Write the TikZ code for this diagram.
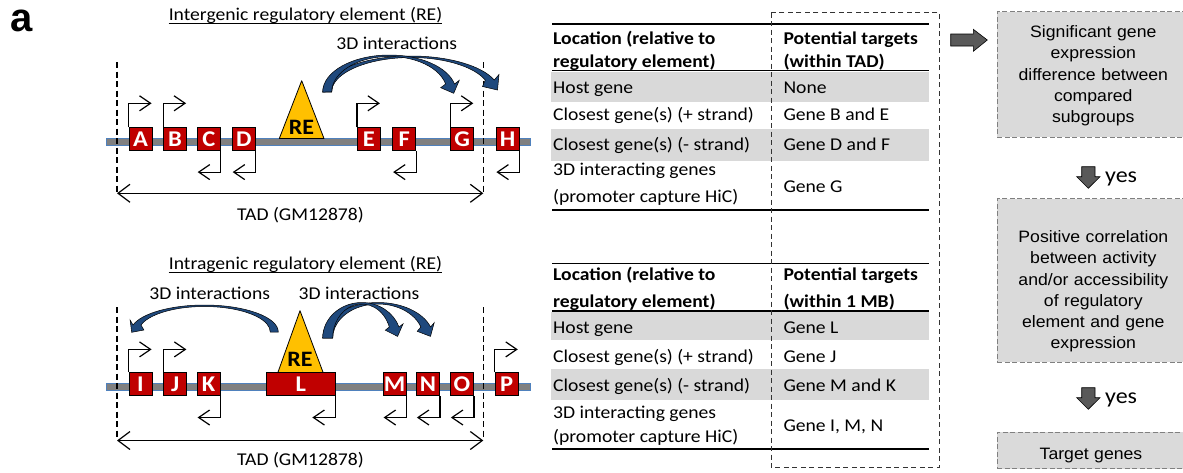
\documentclass[tikz,border=0pt]{standalone}
\usepackage{fontspec}
\setmainfont{Carlito}[FakeStretch=1.09]
\newfontfamily\arialf{Liberation Sans}[FakeStretch=1.07]
\newfontfamily\panelf{Liberation Sans}
\usetikzlibrary{arrows.meta,calc}

\definecolor{genered}{HTML}{C00000}
\definecolor{navy}{HTML}{1F497D}
\definecolor{barfill}{HTML}{808080}
\definecolor{barline}{HTML}{4F81BD}
\definecolor{regold}{HTML}{FFC000}
\definecolor{rowgray}{HTML}{D9D9D9}
\definecolor{boxgray}{HTML}{DADADA}
\definecolor{blockgray}{HTML}{595959}

\tikzset{
  txt/.style={font=\fontsize{18}{20}\selectfont, inner sep=0pt, anchor=base},
  txtl/.style={txt, anchor=base west},
  hdr/.style={txtl, font=\fontsize{18}{20}\selectfont\bfseries},
  gene/.style={draw=black, line width=0.8pt, fill=genered, text=white,
    font=\fontsize{22.5}{22.5}\selectfont\bfseries, minimum width=23pt,
    minimum height=23pt, inner sep=0pt, text height=14.5pt, text depth=0pt},
  relabel/.style={font=\fontsize{22}{22}\selectfont\bfseries, inner sep=0pt, anchor=base},
  prom/.style={line width=1.2pt, -{Straight Barb[length=11pt,width=15pt]}},
  tad/.style={line width=1.2pt,
    {Straight Barb[length=12pt,width=18pt]}-{Straight Barb[length=12pt,width=18pt]}},
  tadline/.style={dash pattern=on 6pt off 3.5pt, line width=1.2pt},
  tabrule/.style={line width=1.5pt},
  chrom/.style={fill=barfill, draw=barline, line width=1pt},
  retri/.style={fill=regold, draw=black, line width=0.8pt, line join=round},
  iarrow/.style={fill=navy, draw=black, line width=0.5pt},
  flowbox/.style={fill=boxgray, draw=gray, dash pattern=on 5pt off 2.5pt,
    line width=1.1pt, inner sep=0pt, anchor=north west},
  blockarr/.style={fill=blockgray, draw=black, line width=0.6pt},
  ftxt/.style={font=\arialf\fontsize{16.5}{21.3}\selectfont, text width=190pt,
    align=center, anchor=base, inner sep=0pt},
  yestxt/.style={font=\fontsize{22}{22}\selectfont, inner sep=0pt, anchor=base west},
}

\begin{document}
\begin{tikzpicture}[x=1pt,y=-1pt]
\useasboundingbox (0,0) rectangle (1183,472);

% panel letter
\node[font=\panelf\bfseries\fontsize{40}{40}\selectfont, inner sep=0pt, anchor=base] (panel) at (22,31) {a};

% =========== intergenic regulatory element ===========
\node[txt] (title1) at (305.5,20.8) {Intergenic regulatory element (RE)};
\draw[line width=1.1pt] ($(title1.base west)+(0,2.6)$) -- ($(title1.base east)+(0,2.6)$);
\node[txt] (int1) at (396.7,49.1) {3D interactions};

\draw[chrom] (106,138.3) rectangle (530,145.7);
\draw[tadline] (117,62) -- (117,195);
\draw[tadline] (483.3,62) -- (483.3,195);

% curved 3D interaction arrows
\draw[iarrow] (322.7,92) arc[start angle=180, end angle=340.5, x radius=88.3, y radius=36]
  -- (499,74.5) -- (497.5,90) -- (482.5,86.5) -- (485.3,80)
  arc[start angle=339.6, end angle=180, x radius=79.3, y radius=34.5] -- cycle;
\draw[iarrow] (322.7,92) arc[start angle=180, end angle=347.5, x radius=66.7, y radius=37]
  -- (459.3,80.3) -- (453.7,93.3) -- (440.7,87.7) -- (445.6,84)
  arc[start angle=347, end angle=180, x radius=57.7, y radius=35.5] -- cycle;

\draw[retri] (279.3,138.5) -- (301.7,80.7) -- (324,138.5) -- cycle;
\node[relabel] (re1) at (301.5,134) {RE};

\node[gene] (A) at (140.5,139.2) {A};
\node[gene] (B) at (175,139.2) {B};
\node[gene] (C) at (208.8,139.2) {C};
\node[gene] (D) at (243.8,139.2) {D};
\node[gene] (E) at (368.8,139.2) {E};
\node[gene] (F) at (404.2,139.2) {F};
\node[gene] (G) at (462.2,139.2) {G};
\node[gene] (H) at (507.5,139.2) {H};

\foreach \g in {A,B,E,G}
  \draw[prom] (\g.north west) -- ++(0,-24) -- ++(23,0);
\foreach \g in {C,D,F,H}
  \draw[prom] (\g.south east) -- ++(0,21) -- ++(-23,0);

\coordinate (tadl1) at (117,193.3);
\coordinate (tadr1) at (483.3,193.3);
\draw[tad] (tadl1) -- (tadr1);
\node[txt] (tad1) at (300.5,220.8) {TAD (GM12878)};

% =========== intragenic regulatory element ===========
\node[txt] (title2) at (305.5,269.8) {Intragenic regulatory element (RE)};
\draw[line width=1.1pt] ($(title2.base west)+(0,2.6)$) -- ($(title2.base east)+(0,2.6)$);
\node[txt] (int2) at (209.7,299.1) {3D interactions};
\node[txt] (int3) at (359,299.1) {3D interactions};

\draw[chrom] (106,383.3) rectangle (530,390.7);
\draw[tadline] (117,307) -- (117,440);
\draw[tadline] (483.3,307) -- (483.3,440);

% curved 3D interaction arrows
\draw[iarrow] (278.3,332) arc[start angle=360, end angle=195.03, x radius=73.9, y radius=27]
  -- (130.1,320) -- (131.7,332.3) -- (143.9,330) -- (141,325)
  arc[start angle=195.93, end angle=360, x radius=65.9, y radius=25.5] -- cycle;
\draw[iarrow] (322.7,338) arc[start angle=180, end angle=341.95, x radius=55.3, y radius=35.5]
  -- (434.2,322.7) -- (430.5,336.4) -- (417.2,331.3) -- (420.9,327)
  arc[start angle=341.13, end angle=180, x radius=45.3, y radius=34] -- cycle;
\draw[iarrow] (322.7,338) arc[start angle=180, end angle=341.95, x radius=39.1, y radius=35.5]
  -- (403.1,323.8) -- (397.6,336.4) -- (385.3,330.2) -- (389.3,327)
  arc[start angle=341.13, end angle=180, x radius=29.1, y radius=34] -- cycle;

\draw[retri] (277.7,373) -- (300,310.7) -- (323.3,373) -- cycle;
\node[relabel] (re2) at (300,366) {RE};

\node[gene] (I) at (140.5,384.3) {I};
\node[gene] (J) at (175.3,384.3) {J};
\node[gene] (K) at (208.7,384.3) {K};
\node[gene, minimum width=68.3pt] (L) at (300.8,384.3) {L};
\node[gene] (M) at (394.7,384.3) {M};
\node[gene] (N) at (428,384.3) {N};
\node[gene] (O) at (462,384.3) {O};
\node[gene] (P) at (506.7,384.3) {P};

\foreach \g in {I,J,P}
  \draw[prom] (\g.north west) -- ++(0,-23) -- ++(23,0);
\foreach \g in {K,L,M,N,O}
  \draw[prom] (\g.south east) -- ++(0,21.3) -- ++(-23,0);

\coordinate (tadl2) at (117,440.5);
\coordinate (tadr2) at (483.3,440.5);
\draw[tad] (tadl2) -- (tadr2);
\node[txt] (tad2) at (300.5,465.8) {TAD (GM12878)};

% =========== tables ===========
\fill[rowgray] (551,71.5) rectangle (929,101.7);
\fill[rowgray] (551,129.3) rectangle (929,160.7);
\fill[rowgray] (551,311.8) rectangle (929,340);
\fill[rowgray] (551,369.3) rectangle (929,400);

\draw[tabrule] (552,24) -- (928.7,24);
\draw[tabrule] (552,70.7) -- (928.7,70.7);
\draw[tabrule] (552,210) -- (928.7,210);
\draw[tabrule] (552,263.3) -- (928.7,263.3);
\draw[tabrule] (552,311) -- (928.7,311);
\draw[tabrule] (552,449) -- (928.7,449);

% first table
\node[hdr] (h11) at (553,44.1) {Location (relative to};
\node[hdr] (h12) at (553,67.5) {regulatory element)};
\node[hdr] (h13) at (783.3,44.1) {Potential targets};
\node[hdr] (h14) at (783.3,67.5) {(within TAD)};
\node[txtl] (r11) at (553,93.5) {Host gene};
\node[txtl] (v11) at (783.3,93.5) {None};
\node[txtl] (r12) at (553,120.8) {Closest gene(s) (+ strand)};
\node[txtl] (v12) at (783.3,120.8) {Gene B and E};
\node[txtl] (r13) at (553,150.8) {Closest gene(s) (- strand)};
\node[txtl] (v13) at (783.3,150.8) {Gene D and F};
\node[txtl] (r14) at (553,175.8) {3D interacting genes};
\node[txtl] (r15) at (553,202.8) {(promoter capture HiC)};
\node[txtl] (v14) at (783.3,192.5) {Gene G};

% second table
\node[hdr] (h21) at (553,280.8) {Location (relative to};
\node[hdr] (h22) at (553,307.5) {regulatory element)};
\node[hdr] (h23) at (783.3,280.8) {Potential targets};
\node[hdr] (h24) at (783.3,307.5) {(within 1 MB)};
\node[txtl] (r21) at (553,333.5) {Host gene};
\node[txtl] (v21) at (783.3,333.5) {Gene L};
\node[txtl] (r22) at (553,362.5) {Closest gene(s) (+ strand)};
\node[txtl] (v22) at (783.3,362.5) {Gene J};
\node[txtl] (r23) at (553,391.5) {Closest gene(s) (- strand)};
\node[txtl] (v23) at (783.3,391.5) {Gene M and K};
\node[txtl] (r24) at (553,418.5) {3D interacting genes};
\node[txtl] (r25) at (553,442.5) {(promoter capture HiC)};
\node[txtl] (v24) at (783.3,431.8) {Gene I, M, N};

% column of potential targets
\draw[dash pattern=on 5pt off 3.5pt, line width=1pt, draw=black!80] (771,12.7) rectangle (939.3,467.3);

% =========== decision flow ===========
\draw[blockarr] (950.7,34) -- (973.3,34) -- (973.3,29.3) -- (987.3,40)
  -- (973.3,51.3) -- (973.3,46) -- (950.7,46) -- cycle;

\node[flowbox, minimum width=193.3pt, minimum height=125.7pt] (f1) at (996.7,11) {};
\node[ftxt] (f1t) at (1093.3,37.6) {Significant gene\\expression\\difference between\\compared\\subgroups};

\draw[blockarr] (1081.7,166.7) -- (1095,166.7) -- (1095,176.7) -- (1100,176.7)
  -- (1088.3,188.3) -- (1076.7,176.7) -- (1081.7,176.7) -- cycle;
\node[yestxt] (yes1) at (1105,182.5) {yes};

\node[flowbox, minimum width=193.3pt, minimum height=163.4pt] (f2) at (996.7,198.3) {};
\node[ftxt] (f2t) at (1093.3,242.4) {Positive correlation\\between activity\\and/or accessibility\\of regulatory\\element and gene\\expression};

\draw[blockarr] (1081.7,387.7) -- (1095,387.7) -- (1095,397.7) -- (1100,397.7)
  -- (1088.3,409.3) -- (1076.7,397.7) -- (1081.7,397.7) -- cycle;
\node[yestxt] (yes2) at (1105,403.2) {yes};

\node[flowbox, minimum width=193.3pt, minimum height=36.6pt] (f3) at (996.7,431.7) {};
\node[ftxt] (f3t) at (1091,459.2) {Target genes};
\end{tikzpicture}
\end{document}
